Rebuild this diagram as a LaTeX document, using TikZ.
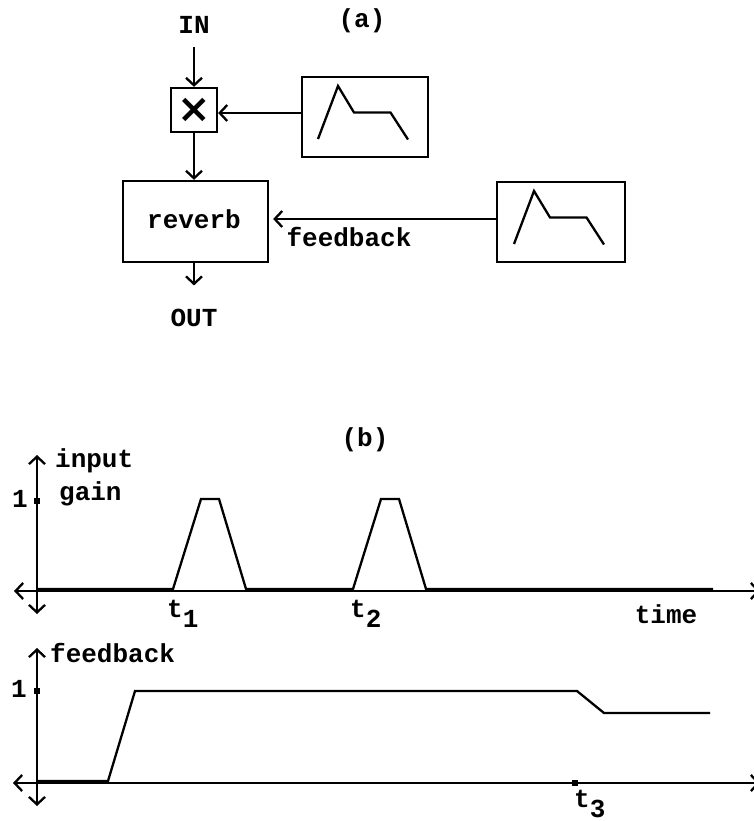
\documentclass[tikz,border=0pt]{standalone}
\usepackage{fontspec}
\setmainfont{Liberation Mono}
\newfontfamily\symfont{DejaVu Sans}
\usetikzlibrary{arrows.meta}
\begin{document}
\begin{tikzpicture}[x=1pt,y=-1pt,line width=2.3pt,
  lbl/.style={font=\fontsize{26}{30}\selectfont\bfseries,inner sep=0pt},
  box/.style={draw,line width=2.3pt,inner sep=0pt},
  arr/.style={-{Straight Barb[length=7.5pt,width=16pt,line width=2.3pt]}},
  dbl/.style={{Straight Barb[length=7.5pt,width=16pt,line width=2.3pt]}-{Straight Barb[length=7.5pt,width=16pt,line width=2.3pt]}},
  curve/.style={line width=2.3pt,line join=miter},
  tickdot/.style={fill=black,draw=none,minimum size=5.5pt,inner sep=0pt},
  envshape/.pic={\draw[curve] (-47,22)--(-27,-31)--(-11,-4.5)--(25.5,-4.5)--(43,22.5);}]
\useasboundingbox (0,0) rectangle (754,821);
% ---- (a)
\node[lbl] (labela) at (362,21) {(a)};
\node[lbl,anchor=base] (in) at (194,34) {IN};
\node[box,minimum width=46pt,minimum height=44pt] (mult) at (194,110) {};
\node[inner sep=0pt,font=\symfont\bfseries\fontsize{40}{40}\selectfont] (times) at (mult.center) {×};
\node[box,minimum width=126pt,minimum height=80pt] (env1) at (365,117) {};
\pic at (env1.center) {envshape};
\node[box,minimum width=145pt,minimum height=81pt] (reverb) at (195.5,221.5) {};
\node[lbl,anchor=base] (reverbtxt) at (194,228) {reverb};
\node[box,minimum width=128pt,minimum height=80pt] (env2) at (561,222) {};
\pic at (env2.center) {envshape};
\node[lbl,anchor=base] (fbtxt) at (349,246) {feedback};
\node[lbl,anchor=base] (out) at (194,326) {OUT};
\draw[arr,shorten <=12pt] (in.south -| mult.north) -- (mult.north);
\draw[arr] (env1.west |- 0,113) -- (mult.east |- 0,113);
\draw[arr] (mult.south) -- (reverb.north -| mult.south);
\draw[arr,shorten >=4pt] (env2.west |- 0,219) -- (reverb.east |- 0,219);
\draw[arr,shorten >=22pt] (reverb.south -| out.north) -- (out.north);
% ---- (b)
\node[lbl] (labelb) at (365,440) {(b)};
% graph 1
\draw[dbl] (14,591) -- (760,591);
\draw[dbl] (37,455) -- (37,614);
\node[tickdot] (tick1) at (37,501) {};
\node[lbl,anchor=base] (one1) at (20,507) {1};
\node[lbl,anchor=base west] (inputtxt) at (54,467) {input};
\node[lbl,anchor=base west] (gaintxt) at (58,500) {gain};
\draw[curve] (37,589)--(173,589)--(201,499)--(219,499)--(246,589)--(353,589)--(381,499)--(399,499)--(426,589)--(713,589);
\node[lbl,anchor=base west] (t1) at (166,617) {t\raisebox{-10pt}{1}};
\node[lbl,anchor=base west] (t2) at (349,617) {t\raisebox{-10pt}{2}};
\node[lbl,anchor=base] (timetxt) at (666,623) {time};
% graph 2
\draw[dbl] (13,783) -- (760,783);
\draw[dbl] (37,648) -- (37,806);
\node[tickdot] (tick2) at (37,691) {};
\node[lbl,anchor=base] (one2) at (19,697) {1};
\node[lbl,anchor=base west] (fbtxt2) at (49,662) {feedback};
\draw[curve] (37,781)--(108,781)--(135,691)--(577,691)--(604,713)--(710,713);
\node[tickdot] (tick3) at (575,783) {};
\node[lbl,anchor=base west] (t3) at (573,807) {t\raisebox{-10pt}{3}};
\end{tikzpicture}
\end{document}
